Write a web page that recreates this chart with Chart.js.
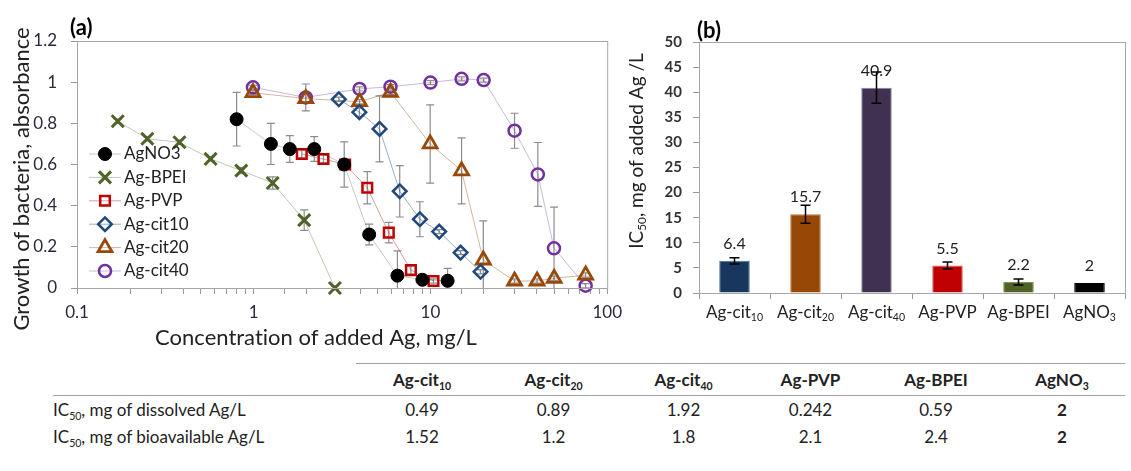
<!DOCTYPE html>
<html>
<head>
<meta charset="utf-8">
<title>Ag nanoparticles IC50</title>
<script src="https://cdn.jsdelivr.net/npm/chart.js@4.4.1/dist/chart.umd.min.js"></script>
<style>
  body { margin: 0; background: #fff; }
  #page { position: relative; width: 1131px; height: 471px; overflow: hidden; font-family: Lato, "Open Sans", sans-serif; color: #222; font-variant-ligatures: none; }
  #chartA { position: absolute; left: 0; top: 0; }
  #chartB { position: absolute; left: 620px; top: 0; }
  #ic50Table { position: absolute; left: 53px; top: 363px; border-collapse: collapse; font-size: 17px; table-layout: fixed; }
  #ic50Table th, #ic50Table td { padding: 0; text-align: center; white-space: nowrap; }
  #ic50Table th { height: 31px; border-top: 1.5px solid #a0a0a0; border-bottom: 1.5px solid #a0a0a0; font-weight: bold; }
  #ic50Table th.rowname { border-top: none; }
  #ic50Table td { height: 27px; }
  #ic50Table .rowname { text-align: left; }
  #ic50Table .strong { font-weight: bold; }
  sub { font-size: 0.62em; vertical-align: -0.35em; line-height: 0; }
</style>
</head>
<body>
<div id="page">
  <canvas id="chartA" width="630" height="350"></canvas>
  <canvas id="chartB" width="511" height="350"></canvas>
  <table id="ic50Table">
    <colgroup id="cols"></colgroup>
    <thead><tr id="headRow"><th class="rowname"></th></tr></thead>
    <tbody>
      <tr id="rowDissolved"><td class="rowname">IC<sub>50</sub>, mg of dissolved Ag/L</td></tr>
      <tr id="rowBio"><td class="rowname">IC<sub>50</sub>, mg of bioavailable Ag/L</td></tr>
    </tbody>
  </table>
</div>
<script>
// (a) growth vs concentration, mg/L
const concAgNO3 = [0.8, 1.25, 1.6, 2.2, 3.25, 4.5, 6.5, 9.0, 12.5];
const growthAgNO3 = [0.82, 0.70, 0.675, 0.675, 0.60, 0.26, 0.06, 0.04, 0.035];
const errAgNO3 = [0.13, 0.10, 0.065, 0.06, 0.11, 0.05, 0.12, 0.02, 0.06];

const concBPEI = [0.17, 0.25, 0.38, 0.57, 0.85, 1.28, 1.93, 2.88];
const growthBPEI = [0.81, 0.725, 0.708, 0.627, 0.57, 0.51, 0.33, 0];
const errBPEI = [0.01, 0.01, 0.01, 0.01, 0.015, 0.03, 0.05, 0.01];

const concPVP = [1.87, 2.48, 3.29, 4.39, 5.81, 7.75, 10.4];
const growthPVP = [0.651, 0.627, 0.60, 0.487, 0.269, 0.087, 0.034];
const errPVP = [0.02, 0.02, 0.02, 0.078, 0.05, 0.02, 0.01];

const concCit10 = [3.03, 3.96, 5.15, 6.70, 8.71, 11.2, 14.8, 19.2];
const growthCit10 = [0.917, 0.854, 0.773, 0.47, 0.334, 0.274, 0.172, 0.079];
const errCit10 = [0.01, 0.02, 0.16, 0.125, 0.085, 0.01, 0.01, 0.01];

const concCit20 = [0.99, 1.97, 3.97, 5.94, 9.96, 15.0, 19.9, 29.9, 40.1, 50.1, 75.5];
const growthCit20 = [0.949, 0.92, 0.905, 0.951, 0.70, 0.569, 0.136, 0.034, 0.034, 0.047, 0.063];
const errCit20 = [0.01, 0.02, 0.01, 0.01, 0.19, 0.16, 0.19, 0.01, 0.01, 0.01, 0.01];

const concCit40 = [0.99, 1.97, 3.97, 5.94, 10.0, 15.0, 20.0, 29.9, 40.5, 50.0, 75.5];
const growthCit40 = [0.975, 0.926, 0.967, 0.978, 0.998, 1.016, 1.01, 0.764, 0.552, 0.193, 0.011];
const errCit40 = [0.01, 0.065, 0.01, 0.01, 0.01, 0.01, 0.01, 0.085, 0.155, 0.2, 0.01];

const xTickLabels = ['0.1', '1', '10', '100'];

// (b) IC50 of added Ag
const icLabels = [['Ag-cit', '10'], ['Ag-cit', '20'], ['Ag-cit', '40'], ['Ag-PVP', ''], ['Ag-BPEI', ''], ['AgNO', '3']];
const icValues = [6.4, 15.7, 40.9, 5.5, 2.2, 2];
const icErrors = [0.6, 1.8, 3.1, 0.7, 0.6, 0];

// table
const dissolvedIC50 = ['0.49', '0.89', '1.92', '0.242', '0.59', '2'];
const bioavailIC50 = ['1.52', '1.2', '1.8', '2.1', '2.4', '2'];

const FONT = 'Lato, "Open Sans", sans-serif';

function font(size, bold) {
  return (bold ? 'bold ' : '') + size + 'px ' + FONT;
}

// draws text with subscripts, parts = [[text, isSub], ...]
function drawRich(ctx, parts, x, y, size, align, bold) {
  let total = 0;
  parts.forEach(([t, sub]) => {
    ctx.font = font(sub ? size * 0.62 : size, bold);
    total += ctx.measureText(t).width;
  });
  let cx = align === 'center' ? x - total / 2 : x;
  ctx.textAlign = 'left';
  ctx.textBaseline = 'middle';
  parts.forEach(([t, sub]) => {
    ctx.font = font(sub ? size * 0.62 : size, bold);
    ctx.fillText(t, cx, sub ? y + size * 0.3 : y);
    cx += ctx.measureText(t).width;
  });
}

function curve(label, xs, ys, errs, color, lineColor, style, radius, filled, bw) {
  return {
    label: label,
    data: xs.map((x, i) => ({ x: x, y: ys[i] })),
    errors: errs,
    showLine: true,
    borderColor: lineColor,
    borderWidth: 1,
    pointStyle: style,
    pointRadius: radius,
    pointBorderColor: color,
    pointBackgroundColor: filled ? color : 'rgba(0,0,0,0)',
    pointBorderWidth: bw,
    clip: false
  };
}

const errorBarsA = {
  id: 'errorBarsA',
  beforeDatasetsDraw(chart) {
    const { ctx, chartArea: a, scales: { x, y } } = chart;
    ctx.save();
    ctx.beginPath();
    ctx.rect(a.left, a.top - 5, a.right - a.left, a.bottom - a.top + 5);
    ctx.clip();
    ctx.strokeStyle = '#8c8c8c';
    ctx.lineWidth = 1.2;
    chart.data.datasets.forEach(ds => {
      ds.data.forEach((p, i) => {
        const e = ds.errors[i];
        const px = x.getPixelForValue(p.x);
        const top = y.getPixelForValue(p.y + e);
        const bot = y.getPixelForValue(p.y - e);
        ctx.beginPath();
        ctx.moveTo(px, top); ctx.lineTo(px, bot);
        ctx.moveTo(px - 4, top); ctx.lineTo(px + 4, top);
        ctx.moveTo(px - 4, bot); ctx.lineTo(px + 4, bot);
        ctx.stroke();
      });
    });
    ctx.restore();
  }
};

const decorA = {
  id: 'decorA',
  afterDraw(chart) {
    const { ctx, chartArea: a } = chart;
    ctx.save();
    ctx.textRendering = 'optimizeSpeed';
    ctx.strokeStyle = '#a6a6a6';
    ctx.lineWidth = 1;
    ctx.strokeRect(a.left + 0.5, a.top + 0.5, a.right - a.left, a.bottom - a.top);

    // legend inside the plot
    chart.data.datasets.forEach((ds, i) => {
      const ly = 154 + i * 23.4;
      ctx.strokeStyle = ds.borderColor;
      ctx.lineWidth = 1;
      ctx.beginPath();
      ctx.moveTo(89, ly); ctx.lineTo(121, ly);
      ctx.stroke();
      ctx.strokeStyle = ds.pointBorderColor;
      ctx.fillStyle = ds.pointBackgroundColor;
      ctx.lineWidth = ds.pointBorderWidth;
      Chart.helpers.drawPoint(ctx, { pointStyle: ds.pointStyle, radius: ds.pointRadius, borderWidth: ds.pointBorderWidth, rotation: 0 }, 105, ly);
      ctx.fillStyle = '#222';
      ctx.font = font(17);
      ctx.textAlign = 'left';
      ctx.textBaseline = 'middle';
      ctx.fillText(ds.label, 124, ly);
    });

    ctx.fillStyle = '#222';
    ctx.font = font(22);
    ctx.textAlign = 'center';
    ctx.textBaseline = 'middle';
    ctx.fillText('Concentration of added Ag, mg/L', 316, 338);
    ctx.translate(22, 179);
    ctx.rotate(-Math.PI / 2);
    ctx.fillText('Growth of bacteria, absorbance', 0, 0);
    ctx.restore();

    ctx.save();
    ctx.fillStyle = '#000';
    ctx.font = font(22, true);
    ctx.textAlign = 'left';
    ctx.textBaseline = 'middle';
    ctx.fillText('(a)', 70, 28);
    ctx.restore();
  }
};

new Chart(document.getElementById('chartA'), {
  type: 'scatter',
  data: {
    datasets: [
      curve('AgNO3', concAgNO3, growthAgNO3, errAgNO3, '#000000', 'rgba(0,0,0,0.22)', 'circle', 6.5, true, 1),
      curve('Ag-BPEI', concBPEI, growthBPEI, errBPEI, '#4f6228', 'rgba(79,98,40,0.35)', 'crossRot', 8.5, false, 3),
      curve('Ag-PVP', concPVP, growthPVP, errPVP, '#c00000', 'rgba(192,0,0,0.4)', 'rect', 6.8, false, 2.5),
      curve('Ag-cit10', concCit10, growthCit10, errCit10, '#1f497d', 'rgba(31,73,125,0.45)', 'rectRot', 6.8, false, 2.5),
      curve('Ag-cit20', concCit20, growthCit20, errCit20, '#984807', 'rgba(152,72,7,0.4)', 'triangle', 8, false, 2.8),
      curve('Ag-cit40', concCit40, growthCit40, errCit40, '#7030a0', 'rgba(112,48,160,0.35)', 'circle', 6, false, 2.5)
    ]
  },
  options: {
    responsive: false,
    animation: false,
    layout: { padding: { top: 41, right: 19, left: 0, bottom: 0 } },
    plugins: { legend: { display: false }, tooltip: { enabled: false } },
    scales: {
      x: {
        type: 'logarithmic',
        min: 0.1,
        max: 100,
        grid: { drawOnChartArea: false, tickLength: 6, color: '#999' },
        border: { color: '#999' },
        ticks: {
          autoSkip: false,
          maxRotation: 0,
          padding: 8,
          color: '#2a2a3a',
          font: { family: FONT, size: 17 },
          callback: v => {
            const k = Math.log10(v) + 1;
            return Math.abs(k - Math.round(k)) < 1e-6 ? xTickLabels[Math.round(k)] : '';
          }
        },
        afterFit: s => { s.height = 62; }
      },
      y: {
        min: 0,
        max: 1.2,
        grid: { drawOnChartArea: false, tickLength: 6, color: '#999' },
        border: { color: '#999' },
        ticks: {
          stepSize: 0.2,
          padding: 14,
          color: '#2a2a3a',
          font: { family: FONT, size: 17 },
          callback: v => String(+v.toFixed(1))
        },
        afterFit: s => { s.width = 77; }
      }
    }
  },
  plugins: [errorBarsA, decorA]
});

// ---- panel (b)
const barFill = ['#17375e', '#974706', '#403152', '#c00000', '#4f6228', '#000000'];
const barEdge = ['#4a6d99', '#c0783c', '#8a8a9c', '#e06060', '#7f9650', '#000000'];

const decorB = {
  id: 'decorB',
  afterDatasetsDraw(chart) {
    const { ctx, chartArea: a, scales: { y } } = chart;
    const bars = chart.getDatasetMeta(0).data;
    ctx.save();
    ctx.strokeStyle = '#a6a6a6';
    ctx.lineWidth = 1;
    ctx.strokeRect(a.left + 0.5, a.top + 0.5, a.right - a.left, a.bottom - a.top);

    bars.forEach((bar, i) => {
      // value label
      ctx.fillStyle = '#222';
      ctx.font = font(16);
      ctx.textAlign = 'center';
      ctx.textBaseline = 'middle';
      ctx.fillText(String(icValues[i]), bar.x, bar.y - 17);

      // category label
      drawRich(ctx, icLabels[i].map((t, j) => [t, j === 1]), bar.x, 313, 17, 'center');

      const e = icErrors[i];
      if (!e) return;
      const top = y.getPixelForValue(icValues[i] + e);
      const bot = y.getPixelForValue(icValues[i] - e);
      ctx.strokeStyle = '#000';
      ctx.lineWidth = 1.5;
      ctx.beginPath();
      ctx.moveTo(bar.x, top); ctx.lineTo(bar.x, bot);
      ctx.moveTo(bar.x - 5, top); ctx.lineTo(bar.x + 5, top);
      ctx.moveTo(bar.x - 5, bot); ctx.lineTo(bar.x + 5, bot);
      ctx.stroke();
    });

    ctx.fillStyle = '#222';
    ctx.translate(17, 151);
    ctx.rotate(-Math.PI / 2);
    drawRich(ctx, [['IC', false], ['50', true], [', mg of added Ag /L', false]], 0, 0, 19, 'center');
    ctx.restore();

    ctx.save();
    ctx.fillStyle = '#000';
    ctx.font = font(22, true);
    ctx.textAlign = 'left';
    ctx.textBaseline = 'middle';
    ctx.fillText('(b)', 77, 31);
    ctx.restore();
  }
};

new Chart(document.getElementById('chartB'), {
  type: 'bar',
  data: {
    labels: icLabels.map(p => p.join('')),
    datasets: [{
      data: icValues,
      backgroundColor: barFill,
      borderColor: barEdge,
      borderWidth: 1,
      barPercentage: 0.43,
      categoryPercentage: 1
    }]
  },
  options: {
    responsive: false,
    animation: false,
    layout: { padding: { top: 42, right: 6, left: 0, bottom: 0 } },
    plugins: { legend: { display: false }, tooltip: { enabled: false } },
    scales: {
      x: {
        grid: { offset: true, drawOnChartArea: false, tickLength: 6, color: '#999' },
        border: { color: '#999' },
        ticks: { display: false },
        afterFit: s => { s.height = 57; }
      },
      y: {
        min: 0,
        max: 50,
        grid: { drawOnChartArea: false, tickLength: 6, color: '#999' },
        border: { color: '#999' },
        ticks: { stepSize: 5, padding: 11, color: '#333', font: { family: FONT, size: 15, weight: 'bold' } },
        afterFit: s => { s.width = 79; }
      }
    }
  },
  plugins: [decorB]
});

// ---- table
const colWidths = [303, 132, 131, 129, 125, 126, 126];
const cols = document.getElementById('cols');
colWidths.forEach(w => {
  const c = document.createElement('col');
  c.style.width = w + 'px';
  cols.appendChild(c);
});
document.getElementById('ic50Table').style.width = colWidths.reduce((s, w) => s + w, 0) + 'px';

const headRow = document.getElementById('headRow');
icLabels.forEach(p => {
  const th = document.createElement('th');
  th.innerHTML = p[0] + (p[1] ? '<sub>' + p[1] + '</sub>' : '');
  headRow.appendChild(th);
});
function fillRow(id, vals) {
  const tr = document.getElementById(id);
  vals.forEach((v, i) => {
    const td = document.createElement('td');
    td.textContent = v;
    if (i === vals.length - 1) td.className = 'strong';
    tr.appendChild(td);
  });
}
fillRow('rowDissolved', dissolvedIC50);
fillRow('rowBio', bioavailIC50);
</script>
</body>
</html>
